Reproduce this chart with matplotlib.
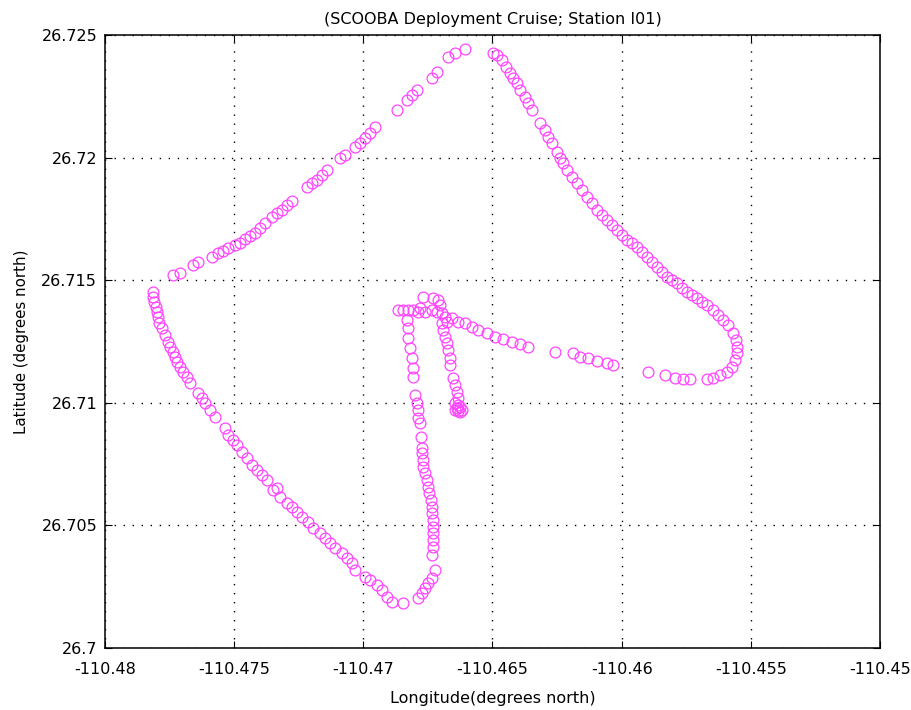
import matplotlib
matplotlib.use("Agg")
import matplotlib.pyplot as plt

plt.rcParams['font.family'] = ['DejaVu Sans']

# ship track (lon, lat in degrees)
nw_lon = [-110.47737, -110.47710, -110.47659, -110.47640, -110.47586, -110.47563,
          -110.47543, -110.47524, -110.47497, -110.47478, -110.47458, -110.47439,
          -110.47419, -110.47400, -110.47381, -110.47354, -110.47334, -110.47315,
          -110.47296, -110.47276, -110.47218, -110.47199, -110.47180, -110.47160,
          -110.47141, -110.47091, -110.47071, -110.47033, -110.47013, -110.46994,
          -110.46974, -110.46955, -110.46870, -110.46831, -110.46812, -110.46793,
          -110.46735, -110.46715, -110.46673, -110.46646, -110.46607]
nw_lat = [26.71521, 26.71529, 26.71562, 26.71574, 26.71594, 26.71611,
          26.71619, 26.71631, 26.71643, 26.71652, 26.71668, 26.71680,
          26.71692, 26.71713, 26.71733, 26.71758, 26.71774, 26.71786,
          26.71807, 26.71823, 26.71880, 26.71896, 26.71909, 26.71929,
          26.71949, 26.71998, 26.72010, 26.72043, 26.72059, 26.72080,
          26.72100, 26.72125, 26.72194, 26.72235, 26.72255, 26.72276,
          26.72324, 26.72349, 26.72410, 26.72426, 26.72443]

ne_lon = [-110.46498, -110.46483, -110.46464, -110.46448, -110.46433, -110.46421,
          -110.46406, -110.46394, -110.46375, -110.46363, -110.46348, -110.46317,
          -110.46297, -110.46286, -110.46270, -110.46251, -110.46239, -110.46228,
          -110.46212, -110.46193, -110.46173, -110.46154, -110.46135, -110.46115,
          -110.46096, -110.46077, -110.46057, -110.46038, -110.46019, -110.45999,
          -110.45980, -110.45961, -110.45941, -110.45922, -110.45902, -110.45883,
          -110.45864, -110.45844, -110.45825, -110.45806, -110.45786, -110.45767,
          -110.45748, -110.45728, -110.45709, -110.45690, -110.45670, -110.45647,
          -110.45628, -110.45608, -110.45589, -110.45570, -110.45558, -110.45554]
ne_lat = [26.72426, 26.72418, 26.72398, 26.72369, 26.72345, 26.72324,
          26.72304, 26.72276, 26.72247, 26.72223, 26.72194, 26.72141,
          26.72112, 26.72084, 26.72059, 26.72023, 26.71998, 26.71978,
          26.71949, 26.71921, 26.71896, 26.71868, 26.71839, 26.71815,
          26.71786, 26.71766, 26.71745, 26.71725, 26.71705, 26.71684,
          26.71664, 26.71652, 26.71635, 26.71615, 26.71594, 26.71574,
          26.71554, 26.71533, 26.71513, 26.71501, 26.71488, 26.71468,
          26.71452, 26.71440, 26.71427, 26.71411, 26.71399, 26.71378,
          26.71358, 26.71338, 26.71317, 26.71285, 26.71256, 26.71227]

turn_lon = [-110.45554, -110.45562, -110.45574, -110.45593, -110.45620, -110.45647,
            -110.45670, -110.45736, -110.45763, -110.45794, -110.45833, -110.45899,
            -110.46034, -110.46057, -110.46096, -110.46131, -110.46162, -110.46189,
            -110.46259, -110.46363, -110.46394, -110.46425, -110.46460, -110.46491,
            -110.46522, -110.46557, -110.46580, -110.46607, -110.46634, -110.46657]
turn_lat = [26.71203, 26.71174, 26.71146, 26.71126, 26.71113, 26.71101,
            26.71097, 26.71097, 26.71097, 26.71101, 26.71113, 26.71126,
            26.71154, 26.71162, 26.71170, 26.71183, 26.71187, 26.71203,
            26.71207, 26.71227, 26.71240, 26.71248, 26.71260, 26.71268,
            26.71285, 26.71297, 26.71309, 26.71325, 26.71329, 26.71346]

# station cluster and the short run down to the end point
stn_lon = [-110.46866, -110.46847, -110.46827, -110.46808, -110.46789, -110.46769,
           -110.46762, -110.46735, -110.46731, -110.46711, -110.46715, -110.46696,
           -110.46684, -110.46676, -110.46781, -110.46704,
           -110.46696, -110.46692, -110.46684, -110.46676, -110.46673, -110.46665,
           -110.46665, -110.46653, -110.46646, -110.46638, -110.46634,
           -110.46646, -110.46634, -110.46626, -110.46638, -110.46646, -110.46634,
           -110.46618, -110.46626]
stn_lat = [26.71378, 26.71378, 26.71378, 26.71378, 26.71370, 26.71431,
           26.71370, 26.71378, 26.71427, 26.71419, 26.71370, 26.71366,
           26.71350, 26.71329, 26.71387, 26.71399,
           26.71325, 26.71297, 26.71268, 26.71244, 26.71215, 26.71183,
           26.71154, 26.71101, 26.71073, 26.71044, 26.71020,
           26.70999, 26.70991, 26.70983, 26.70979, 26.70971, 26.70966,
           26.70971, 26.70962]

mid_lon = [-110.46831, -110.46827, -110.46827, -110.46820, -110.46812, -110.46808,
           -110.46808, -110.46800, -110.46793, -110.46789, -110.46789, -110.46781,
           -110.46777, -110.46773, -110.46773, -110.46769, -110.46769, -110.46762,
           -110.46754, -110.46750, -110.46746, -110.46738, -110.46735, -110.46735,
           -110.46731, -110.46731, -110.46731, -110.46731, -110.46731, -110.46735,
           -110.46723, -110.46735, -110.46750, -110.46762, -110.46773, -110.46789,
           -110.46847]
mid_lat = [26.71338, 26.71305, 26.71264, 26.71223, 26.71183, 26.71142,
           26.71105, 26.71032, 26.70999, 26.70971, 26.70938, 26.70918,
           26.70860, 26.70816, 26.70795, 26.70767, 26.70738, 26.70714,
           26.70685, 26.70657, 26.70632, 26.70604, 26.70575, 26.70551,
           26.70522, 26.70493, 26.70469, 26.70440, 26.70412, 26.70379,
           26.70318, 26.70285, 26.70265, 26.70245, 26.70224, 26.70204,
           26.70184]

sw_lon = [-110.46889, -110.46909, -110.46928, -110.46947, -110.46974, -110.46994,
          -110.47033, -110.47044, -110.47063, -110.47083, -110.47110, -110.47129,
          -110.47149, -110.47168, -110.47195, -110.47214, -110.47238, -110.47257,
          -110.47276, -110.47296, -110.47323, -110.47334, -110.47350, -110.47373,
          -110.47392, -110.47412, -110.47431, -110.47450, -110.47470, -110.47489,
          -110.47505, -110.47524, -110.47536, -110.47574, -110.47594, -110.47613,
          -110.47625, -110.47640, -110.47671, -110.47683, -110.47698, -110.47710,
          -110.47721, -110.47729, -110.47737, -110.47748, -110.47756, -110.47768,
          -110.47779, -110.47791, -110.47795, -110.47799, -110.47803, -110.47810,
          -110.47814, -110.47814]
sw_lat = [26.70188, 26.70208, 26.70237, 26.70257, 26.70277, 26.70290,
          26.70318, 26.70347, 26.70367, 26.70387, 26.70408, 26.70428,
          26.70449, 26.70469, 26.70489, 26.70514, 26.70534, 26.70555,
          26.70575, 26.70591, 26.70616, 26.70652, 26.70644, 26.70685,
          26.70705, 26.70726, 26.70746, 26.70775, 26.70799, 26.70828,
          26.70848, 26.70869, 26.70897, 26.70942, 26.70971, 26.70999,
          26.71020, 26.71040, 26.71081, 26.71105, 26.71126, 26.71146,
          26.71166, 26.71187, 26.71207, 26.71227, 26.71248, 26.71276,
          26.71305, 26.71325, 26.71350, 26.71370, 26.71391, 26.71411,
          26.71431, 26.71452]

x_ticks = [-110.48, -110.475, -110.47, -110.465, -110.46, -110.455, -110.45]
y_ticks = [26.7, 26.705, 26.71, 26.715, 26.72, 26.725]

fig = plt.figure(figsize=(9.12, 7.10), dpi=100)
ax = fig.add_axes([0.115, 0.0873, 0.850, 0.8634])

for lon, lat in [(nw_lon, nw_lat), (ne_lon, ne_lat), (turn_lon, turn_lat),
                 (stn_lon, stn_lat), (mid_lon, mid_lat), (sw_lon, sw_lat)]:
    ax.plot(lon, lat, 'o', color='#ff44ff', markerfacecolor='none',
            markersize=7.8, markeredgewidth=0.9, linestyle='none')

ax.set_xlim(-110.48, -110.45)
ax.set_ylim(26.7, 26.725)
ax.set_xticks(x_ticks)
ax.set_xticklabels(['%g' % v for v in x_ticks])
ax.set_yticks(y_ticks)
ax.set_yticklabels(['%g' % v for v in y_ticks])
ax.grid(True, color='black', linestyle=(0, (1, 5.5)), linewidth=1.0)
ax.tick_params(direction='in', top=True, right=True, length=5, labelsize=11.5)
ax.tick_params(axis='x', pad=10)
ax.tick_params(axis='y', pad=5.5)
for s in ax.spines.values():
    s.set_linewidth(1.1)

ax.set_title('(SCOOBA Deployment Cruise; Station I01)', fontsize=11.5, pad=8)
ax.set_xlabel('Longitude(degrees north)', fontsize=11.5, labelpad=10)
ax.set_ylabel('Latitude (degrees north)', fontsize=10.8, labelpad=9)

fig.savefig('out.png', dpi=100)
